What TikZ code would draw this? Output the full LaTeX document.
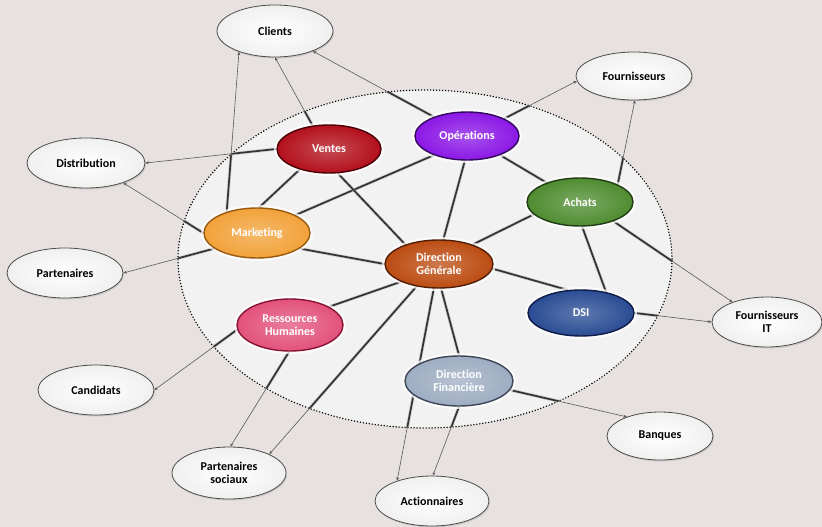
\documentclass[tikz,border=0pt]{standalone}
\usepackage{fontspec}
\setmainfont{Carlito}[Ligatures=NoCommon]
\usetikzlibrary{shapes.geometric,arrows.meta,shadows}
\definecolor{bgc}{HTML}{E7E2DF}
\definecolor{zone}{HTML}{F2F2F2}
\definecolor{cVen}{HTML}{B3101C}\definecolor{dVen}{HTML}{4A0006}
\definecolor{cOpe}{HTML}{8B18E6}\definecolor{dOpe}{HTML}{33085E}
\definecolor{cAch}{HTML}{4F8C30}\definecolor{dAch}{HTML}{223D14}
\definecolor{cMkt}{HTML}{F2A23A}\definecolor{dMkt}{HTML}{9A5A10}
\definecolor{cDG}{HTML}{BC4C12}\definecolor{dDG}{HTML}{521E06}
\definecolor{cDSI}{HTML}{2A4C94}\definecolor{dDSI}{HTML}{0E1C48}
\definecolor{cDF}{HTML}{9EADC2}\definecolor{dDF}{HTML}{3E4656}
\definecolor{cRH}{HTML}{E2527C}\definecolor{dRH}{HTML}{8A1434}
\pgfdeclarelayer{back}\pgfdeclarelayer{mid}
\pgfsetlayers{back,mid,main}
\tikzset{
  dept/.style n args={3}{ellipse, minimum width=106pt, minimum height=48pt, inner sep=0pt,
    draw=#2, line width=1.4pt, inner color=#1!75!white, outer color=#1,
    preaction={draw=white, line width=6pt, opacity=0.75},
    text=white, font=\fontsize{12}{13}\selectfont\bfseries, align=center},
  ext/.style={ellipse, minimum width=116pt, minimum height=50pt, inner sep=0pt,
    draw=gray!60!black, line width=0.8pt, inner color=white, outer color=gray!12,
    drop shadow={shadow xshift=1pt, shadow yshift=-1.5pt, opacity=0.25},
    text=black, font=\fontsize{12}{13}\selectfont\bfseries, align=center},
  inlink/.style={draw=black!80, line width=1.7pt,
    preaction={draw=gray!55, line width=3.2pt, opacity=0.6}},
  outlink/.style={draw=black!65, line width=0.6pt, -{Stealth[length=3.5pt,width=3pt]}},
}
\def\bigell{(425,259) ellipse [x radius=247pt, y radius=169pt]}
\newcommand\linkout[2]{%
  \draw[outlink] (#1) -- (#2);
  \begin{scope}\clip \bigell; \draw[inlink] (#1) -- (#2);\end{scope}}
\begin{document}
\begin{tikzpicture}[x=1pt,y=-1pt]
\begin{pgfonlayer}{back}
  \fill[bgc] (0,0) rectangle (822,527);
  \fill[zone] \bigell;
  \draw[black, line width=1.6pt, dash pattern=on 0pt off 3pt, line cap=round] \bigell;
\end{pgfonlayer}
\useasboundingbox (0,0) rectangle (822,527);
% departments
\node[dept={cVen}{dVen}{}, minimum width=104pt] (ven) at (329,149) {Ventes};
\node[dept={cOpe}{dOpe}{}, minimum width=104pt] (ope) at (467,136) {Opérations};
\node[dept={cAch}{dAch}{}] (ach) at (580,202) {Achats};
\node[dept={cMkt}{dMkt}{}, minimum height=50pt] (mkt) at (257,233) {Marketing};
\node[dept={cDG}{dDG}{}, minimum width=108pt] (dg) at (439,264) {Direction\\Générale};
\node[dept={cDSI}{dDSI}{}, minimum height=46pt] (dsi) at (581,313) {DSI};
\node[dept={cDF}{dDF}{}, minimum width=108pt, minimum height=50pt] (df) at (459,381) {Direction\\Financière};
\node[dept={cRH}{dRH}{}, minimum height=52pt] (rh) at (290,325) {Ressources\\Humaines};
% external partners
\node[ext, minimum height=52pt] (cli) at (275,31) {Clients};
\node[ext, minimum height=48pt] (fou) at (634,76) {Fournisseurs};
\node[ext, minimum width=118pt] (dis) at (86,163) {Distribution};
\node[ext] (par) at (65,273) {Partenaires};
\node[ext, minimum width=110pt] (fit) at (767,322) {Fournisseurs\\IT};
\node[ext] (can) at (96,390) {Candidats};
\node[ext, minimum width=114pt, minimum height=52pt] (ps) at (229,473) {Partenaires\\sociaux};
\node[ext, minimum width=114pt] (act) at (432,501) {Actionnaires};
\node[ext, minimum width=106pt, minimum height=48pt] (ban) at (660,436) {Banques};
% connectors
\begin{pgfonlayer}{mid}
  \draw[inlink] (mkt.85) -- (ven.215);
  \draw[inlink] (mkt.25) -- (ope.210);
  \draw[inlink] (mkt.-20) -- (dg.180);
  \draw[inlink] (ven.-70) -- (dg.150);
  \draw[inlink] (ope.265) -- (dg.80);
  \draw[inlink] (ope.-30) -- (ach.150);
  \draw[inlink] (ach.195) -- (dg.30);
  \draw[inlink] (ach.275) -- (dsi.40);
  \draw[inlink] (dg.-5) -- (dsi.120);
  \draw[inlink] (dg.205) -- (rh.25);
  \draw[inlink] (dg.275) -- (df.90);
  \linkout{mkt.145}{cli.210}
  \linkout{ven.125}{cli.270}
  \linkout{ope.150}{cli.-28}
  \linkout{ope.25}{fou.185}
  \linkout{ach.25}{fou.272}
  \linkout{ven.180}{dis.0}
  \linkout{mkt.180}{dis.-28}
  \linkout{mkt.200}{par.0}
  \linkout{ach.-30}{fit.150}
  \linkout{dsi.0}{fit.180}
  \linkout{rh.185}{can.0}
  \linkout{rh.268}{ps.87}
  \linkout{dg.225}{ps.25}
  \linkout{dg.258}{act.150}
  \linkout{df.270}{act.88}
  \linkout{df.-10}{ban.150}
\end{pgfonlayer}
\end{tikzpicture}
\end{document}
